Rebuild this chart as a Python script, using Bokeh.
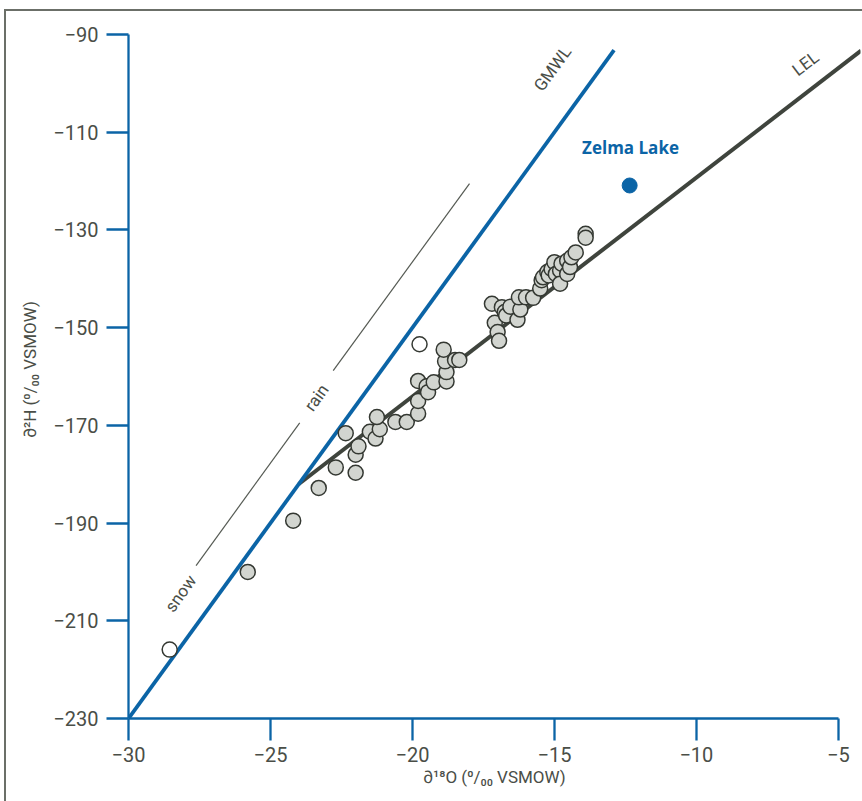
from bokeh.plotting import figure
from bokeh.models import Range1d, FixedTicker, ColumnDataSource, InlineStyleSheet
from bokeh.core.properties import value
from bokeh.embed import file_html
from bokeh.resources import INLINE
import math

# ---------------- data ----------------
sample_d18o = [-25.8, -24.2, -23.3, -22.7, -22.0, -22.0, -21.9, -22.35, -21.5, -21.3,
               -21.15, -21.25, -20.6, -20.2, -19.8, -19.8, -19.8, -19.5, -19.45, -19.25,
               -18.8, -18.8, -18.85, -18.9, -18.5, -18.35, -17.2, -17.1, -17.0, -16.95,
               -16.85, -16.75, -16.7, -16.55, -16.3, -16.2, -16.25, -16.0, -15.75, -15.5,
               -15.45, -15.4, -15.25, -15.2, -15.1, -15.0, -14.95, -14.8, -14.8, -14.75,
               -14.55, -14.55, -14.45, -14.4, -14.25, -13.9, -13.9]
sample_d2h = [-200.0, -189.5, -182.8, -178.6, -179.7, -176.0, -174.3, -171.6, -171.3, -172.7,
              -170.8, -168.3, -169.3, -169.3, -167.6, -165.0, -160.9, -162.0, -163.2, -161.2,
              -161.0, -159.1, -156.9, -154.5, -156.6, -156.6, -145.1, -149.0, -150.9, -152.7,
              -145.8, -146.8, -147.5, -145.7, -148.4, -146.3, -143.8, -143.8, -143.9, -142.0,
              -140.3, -139.7, -138.6, -139.3, -138.0, -136.6, -139.0, -138.3, -141.0, -136.9,
              -136.3, -139.0, -137.6, -135.6, -134.6, -130.8, -131.6]

precip_d18o = [-28.55, -19.75]
precip_d2h = [-215.9, -153.4]

zelma_d18o = [-12.35]
zelma_d2h = [-120.9]

gmwl_x = [-30.0, -12.9]
gmwl_y = [-230.0, -93.2]
lel_x = [-24.0, -4.2]
lel_y = [-182.0, -93.3]

snow_seg_x0, snow_seg_y0, snow_seg_x1, snow_seg_y1 = [-27.62], [-198.7], [-23.97], [-169.5]
rain_seg_x0, rain_seg_y0, rain_seg_x1, rain_seg_y1 = [-22.79], [-158.8], [-17.99], [-120.5]

x_ticks = [-30, -25, -20, -15, -10, -5]
y_ticks = [-230, -210, -190, -170, -150, -130, -110, -90]
x_tick_labels = {t: "\u2212" + str(abs(t)) for t in x_ticks}
y_tick_labels = {t: "\u2212" + str(abs(t)) for t in y_ticks}

# ---------------- style ----------------
BLUE = "#0b64a6"
DARK = "#3f443d"
TEXT = "#4a4e47"
FONT = "Roboto"

p = figure(width=862, height=801, output_backend="svg", toolbar_location=None,
           x_range=Range1d(-30, -4.22), y_range=Range1d(-230, -87.13),
           min_border_left=128, min_border_right=2, min_border_top=20, min_border_bottom=83,
           background_fill_color=None, border_fill_color=None)
p.stylesheets = [InlineStyleSheet(css=(
    ":host { background: white; "
    "box-shadow: inset 4px 9px 0 0 white, inset 6px 11px 0 0 #6b6f68; }"))]
p.outline_line_color = None
p.grid.visible = False

for ax in (p.xaxis[0], p.yaxis[0]):
    ax.axis_line_color = BLUE
    ax.axis_line_width = 2.3
    ax.major_tick_line_color = BLUE
    ax.major_tick_line_width = 2.3
    ax.major_tick_out = 22
    ax.major_tick_in = 0
    ax.minor_tick_line_color = None
    ax.major_label_text_font = FONT
    ax.major_label_text_font_size = "20px"
    ax.major_label_text_color = TEXT
    ax.axis_label_text_font = FONT
    ax.axis_label_text_font_size = "17px"
    ax.axis_label_text_font_style = "normal"
    ax.axis_label_text_color = TEXT

p.xaxis[0].ticker = FixedTicker(ticks=x_ticks)
p.yaxis[0].ticker = FixedTicker(ticks=y_ticks)
p.xaxis[0].major_label_overrides = x_tick_labels
p.yaxis[0].major_label_overrides = y_tick_labels
p.xaxis[0].bounds = (-30, -5)
p.yaxis[0].bounds = (-230, -90)
p.xaxis[0].major_label_standoff = 6
p.yaxis[0].major_label_standoff = 8
p.xaxis[0].axis_label = "\u2202\u00b9\u2078O (\u2070/\u2080\u2080 VSMOW)"
p.yaxis[0].axis_label = "\u2202\u00b2H (\u2070/\u2080\u2080 VSMOW)"
p.xaxis[0].axis_label_standoff = 2
p.yaxis[0].axis_label_standoff = 10

# annotation guide lines
p.segment(x0=snow_seg_x0, y0=snow_seg_y0, x1=snow_seg_x1, y1=snow_seg_y1,
          line_color="#555a53", line_width=1.2)
p.segment(x0=rain_seg_x0, y0=rain_seg_y0, x1=rain_seg_x1, y1=rain_seg_y1,
          line_color="#555a53", line_width=1.2)

# lines
p.line(lel_x, lel_y, line_color=DARK, line_width=4)
p.line(gmwl_x, gmwl_y, line_color=BLUE, line_width=3.8)

# points
p.scatter(sample_d18o, sample_d2h, size=15, fill_color="#d2d5d0",
          line_color="#343832", line_width=1.5)
p.scatter(precip_d18o, precip_d2h, size=15, fill_color="white",
          line_color="#343832", line_width=1.5)
p.scatter(zelma_d18o, zelma_d2h, size=15, fill_color=BLUE, line_color=BLUE)

# text labels
gm_angle = math.radians(54.1)
lel_angle = math.radians(37.6)
lab = ColumnDataSource(dict(
    x=[-28.17, -23.38, -15.07], y=[-204.4, -164.3, -96.96],
    t=["snow", "rain", "GMWL"]))
p.text(x="x", y="y", text="t", source=lab, angle=gm_angle,
       text_font=value(FONT), text_font_size="17px", text_color=TEXT,
       text_align="center", text_baseline="middle")
p.text(x=[-6.16], y=[-95.9], text=["LEL"], angle=lel_angle,
       text_font=value(FONT), text_font_size="17px", text_color=TEXT,
       text_align="center", text_baseline="middle")
p.text(x=[-12.32], y=[-113.1], text=["Zelma Lake"],
       text_font=value("Open Sans"), text_font_size="17px", text_font_style="bold",
       text_color=BLUE, text_align="center", text_baseline="middle")

open("out.html", "w").write(file_html(p, INLINE))
